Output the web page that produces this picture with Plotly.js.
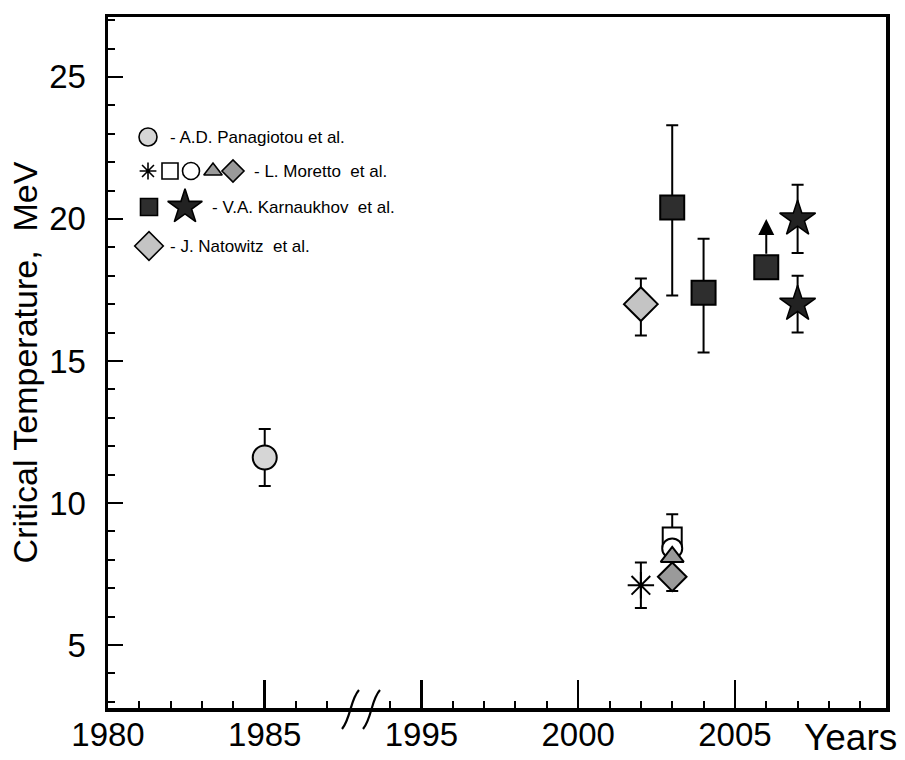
<!DOCTYPE html>
<html>
<head>
<meta charset="utf-8">
<script src="https://cdn.plot.ly/plotly-3.0.1.min.js"></script>
<style>html,body{margin:0;padding:0;background:#fff;}#chart{width:905px;height:760px;}</style>
</head>
<body>
<div id="chart"></div>
<script>
// ---------- data ----------
// A.D. Panagiotou et al.
var panYears = [1985];
var panT = [11.6];
var panErr = [1.0];

// J. Natowitz et al.
var natYears = [2002];
var natT = [17.0];
var natErrPlus = [0.9];
var natErrMinus = [1.1];

// V.A. Karnaukhov et al. (squares)
var karSqYears = [2003, 2004, 2006];
var karSqT = [20.4, 17.4, 18.3];
var karSqErrPlus = [2.9, 1.9, 0];
var karSqErrMinus = [3.1, 2.1, 0];
// lower-limit arrow on the 2006 point
var karLimitYear = [2006];
var karLimitFrom = [18.3];
var karLimitTo = [20.0];

// V.A. Karnaukhov et al. (stars)
var karStarYears = [2007, 2007];
var karStarT = [20.0, 17.0];
var karStarErr = [1.2, 1.0];

// L. Moretto et al.
var morAstYears = [2002];   var morAstT = [7.1];  var morAstErr = [0.8];
var morSqYears = [2003];    var morSqT = [8.8];   var morSqErrPlus = [0.8];
var morCircYears = [2003];  var morCircT = [8.4];
var morTriYears = [2003];   var morTriT = [8.1];
var morDiaYears = [2003];   var morDiaT = [7.4];  var morDiaErrMinus = [0.5];

// axis ticks
var majorYears = [1980, 1985, 1995, 2000, 2005];
var majorLabels = ['1980', '1985', '1995', '2000', '2005'];
var minorYears = [1981, 1982, 1983, 1984, 1986, 1987, 1994, 1996, 1997, 1998, 1999,
                  2001, 2002, 2003, 2004, 2006, 2007, 2008, 2009];
var yTicks = [5, 10, 15, 20, 25];

// legend rows
var legendLabels = ['- A.D. Panagiotou et al.', '- L. Moretto\u00a0 et al.',
                    '- V.A. Karnaukhov\u00a0 et al.', '- J. Natowitz\u00a0 et al.'];

// ---------- broken time axis: 1988..1994 is cut out ----------
function ax(y) { return y >= 1990 ? y - 5 : y; }
function axs(arr) { return arr.map(ax); }

var FONT = 'Liberation Sans, Arial, Helvetica, sans-serif';
var LIGHT = '#d6d6d6', MID = '#9a9a9a', DARK = '#2e2e2e', STAR = '#222222';
var errStyle = {color: '#000', thickness: 2, width: 6};

function errSym(v) { return Object.assign({type: 'data', symmetric: true, array: v}, errStyle); }
function errAsym(p, m) { return Object.assign({type: 'data', symmetric: false, array: p, arrayminus: m}, errStyle); }

var traces = [
  {x: axs(panYears), y: panT, error_y: errSym(panErr), mode: 'markers', type: 'scatter',
   name: 'A.D. Panagiotou et al.',
   marker: {symbol: 'circle', size: 24, color: LIGHT, line: {color: '#000', width: 2}}},
  {x: axs(natYears), y: natT, error_y: errAsym(natErrPlus, natErrMinus), mode: 'markers', type: 'scatter',
   name: 'J. Natowitz et al.',
   marker: {symbol: 'diamond', size: 26, color: '#c4c4c4', line: {color: '#000', width: 2}}},
  {x: axs(karSqYears), y: karSqT, error_y: errAsym(karSqErrPlus, karSqErrMinus), mode: 'markers', type: 'scatter',
   name: 'V.A. Karnaukhov et al.',
   marker: {symbol: 'square', size: 24, color: DARK, line: {color: '#000', width: 2}}},
  {x: axs(karStarYears), y: karStarT, error_y: errSym(karStarErr), mode: 'markers', type: 'scatter',
   name: 'V.A. Karnaukhov et al. (stars)',
   marker: {symbol: 'star', size: 27, color: STAR, line: {color: '#000', width: 1.5}}},
  {x: axs(morAstYears), y: morAstT, error_y: errSym(morAstErr), mode: 'markers', type: 'scatter',
   name: 'L. Moretto et al.',
   marker: {symbol: 'asterisk-open', size: 22, color: '#000', line: {color: '#000', width: 2}}},
  {x: axs(morSqYears), y: morSqT, error_y: errAsym(morSqErrPlus, [0]), mode: 'markers', type: 'scatter',
   name: 'L. Moretto et al. (square)',
   marker: {symbol: 'square', size: 19, color: '#fff', line: {color: '#000', width: 2}}},
  {x: axs(morCircYears), y: morCircT, mode: 'markers', type: 'scatter',
   name: 'L. Moretto et al. (circle)',
   marker: {symbol: 'circle', size: 20, color: '#fff', line: {color: '#000', width: 2}}},
  {x: axs(morTriYears), y: morTriT, mode: 'markers', type: 'scatter',
   name: 'L. Moretto et al. (triangle)',
   marker: {symbol: 'triangle-up', size: 20, color: MID, line: {color: '#000', width: 2}}},
  {x: axs(morDiaYears), y: morDiaT, error_y: errAsym([0], morDiaErrMinus), mode: 'markers', type: 'scatter',
   name: 'L. Moretto et al. (diamond)',
   marker: {symbol: 'diamond', size: 22, color: MID, line: {color: '#000', width: 2}}}
];

// ---------- legend drawn on an overlay in page pixels ----------
var LG = {
  rows: [137, 171, 207, 246],
  textX: [168, 252, 210, 168]
};
var legendMarkers = [
  {x: 148, r: 0, symbol: 'circle', size: 18, color: LIGHT},
  {x: 148, r: 1, symbol: 'asterisk-open', size: 14, color: '#000'},
  {x: 170, r: 1, symbol: 'square', size: 16, color: '#fff'},
  {x: 191, r: 1, symbol: 'circle', size: 17, color: '#fff'},
  {x: 213, r: 1, symbol: 'triangle-up', size: 16, color: MID},
  {x: 233, r: 1, symbol: 'diamond', size: 17, color: MID},
  {x: 149, r: 2, symbol: 'square', size: 17, color: DARK},
  {x: 185, r: 2, symbol: 'star', size: 26, color: STAR},
  {x: 149, r: 3, symbol: 'diamond', size: 22, color: '#c4c4c4'}
];
legendMarkers.forEach(function (m) {
  traces.push({
    x: [m.x], y: [LG.rows[m.r]], xaxis: 'x2', yaxis: 'y2', type: 'scatter', mode: 'markers',
    hoverinfo: 'skip', showlegend: false,
    marker: {symbol: m.symbol, size: m.size, color: m.color, line: {color: '#000', width: 1.6}}
  });
});

var annotations = legendLabels.map(function (t, i) {
  return {text: t, xref: 'x2', yref: 'y2', x: LG.textX[i], y: LG.rows[i],
          xanchor: 'left', yanchor: 'middle', showarrow: false,
          font: {family: FONT, size: 17, color: '#000'}};
});
annotations.push({
  text: 'Years', xref: 'paper', yref: 'paper', x: 0.955, y: -0.042,
  xanchor: 'center', yanchor: 'middle', showarrow: false,
  font: {family: FONT, size: 37, color: '#000'}
});
// lower-limit arrow
annotations.push({
  text: '', xref: 'x', yref: 'y', axref: 'x', ayref: 'y',
  x: ax(karLimitYear[0]), y: karLimitTo[0], ax: ax(karLimitYear[0]), ay: karLimitFrom[0],
  showarrow: true, arrowhead: 2, arrowsize: 1.6, arrowwidth: 2, arrowcolor: '#000',
  startstandoff: 12
});

// axis-break marks (page px -> paper units)
function px(x) { return ((x - 108) / 778).toFixed(4); }
function py(y) { return ((708 - y) / 691).toFixed(4); }
function breakPath(x0) {
  return 'M ' + px(x0) + ' ' + py(729) +
         ' C ' + px(x0 + 9) + ' ' + py(718) + ', ' + px(x0 + 8) + ' ' + py(700) +
         ', ' + px(x0 + 17) + ' ' + py(690);
}

var layout = {
  width: 905, height: 760,
  margin: {l: 108, r: 19, t: 17, b: 52},
  paper_bgcolor: '#fff', plot_bgcolor: '#fff',
  showlegend: false,
  font: {family: FONT, color: '#000'},
  xaxis: {
    range: [1980, 2004.82], showgrid: false, zeroline: false,
    showline: true, linecolor: '#000', linewidth: 3.5, mirror: true,
    ticks: 'inside', ticklen: 28, tickwidth: 2.5, tickcolor: '#000',
    tickvals: axs(majorYears), ticktext: majorLabels,
    tickfont: {family: FONT, size: 33, color: '#000'},
    ticklabelstandoff: -5,
    minor: {tickvals: axs(minorYears), ticks: 'inside', ticklen: 7, tickwidth: 2, tickcolor: '#000', showgrid: false}
  },
  yaxis: {
    range: [2.78, 27.11], showgrid: false, zeroline: false,
    showline: true, linecolor: '#000', linewidth: 3.5, mirror: true,
    ticks: 'inside', ticklen: 15, tickwidth: 2.5, tickcolor: '#000',
    tickvals: yTicks, ticktext: yTicks.map(String),
    tickfont: {family: FONT, size: 33, color: '#000'},
    ticklabelstandoff: 12,
    minor: {dtick: 1, ticks: 'inside', ticklen: 7, tickwidth: 2, tickcolor: '#000', showgrid: false},
    title: {text: 'Critical Temperature,\u00a0 MeV', font: {family: FONT, size: 34, color: '#000'}, standoff: 2}
  },
  xaxis2: {overlaying: 'x', anchor: 'y2', range: [108, 886], visible: false, fixedrange: true},
  yaxis2: {overlaying: 'y', anchor: 'x2', range: [708, 17], visible: false, fixedrange: true},
  annotations: annotations,
  shapes: [
    {type: 'path', xref: 'paper', yref: 'paper', path: breakPath(342), line: {color: '#000', width: 2.2}},
    {type: 'path', xref: 'paper', yref: 'paper', path: breakPath(363), line: {color: '#000', width: 2.2}}
  ]
};

Plotly.newPlot('chart', traces, layout, {staticPlot: true, displayModeBar: false});
</script>
</body>
</html>
